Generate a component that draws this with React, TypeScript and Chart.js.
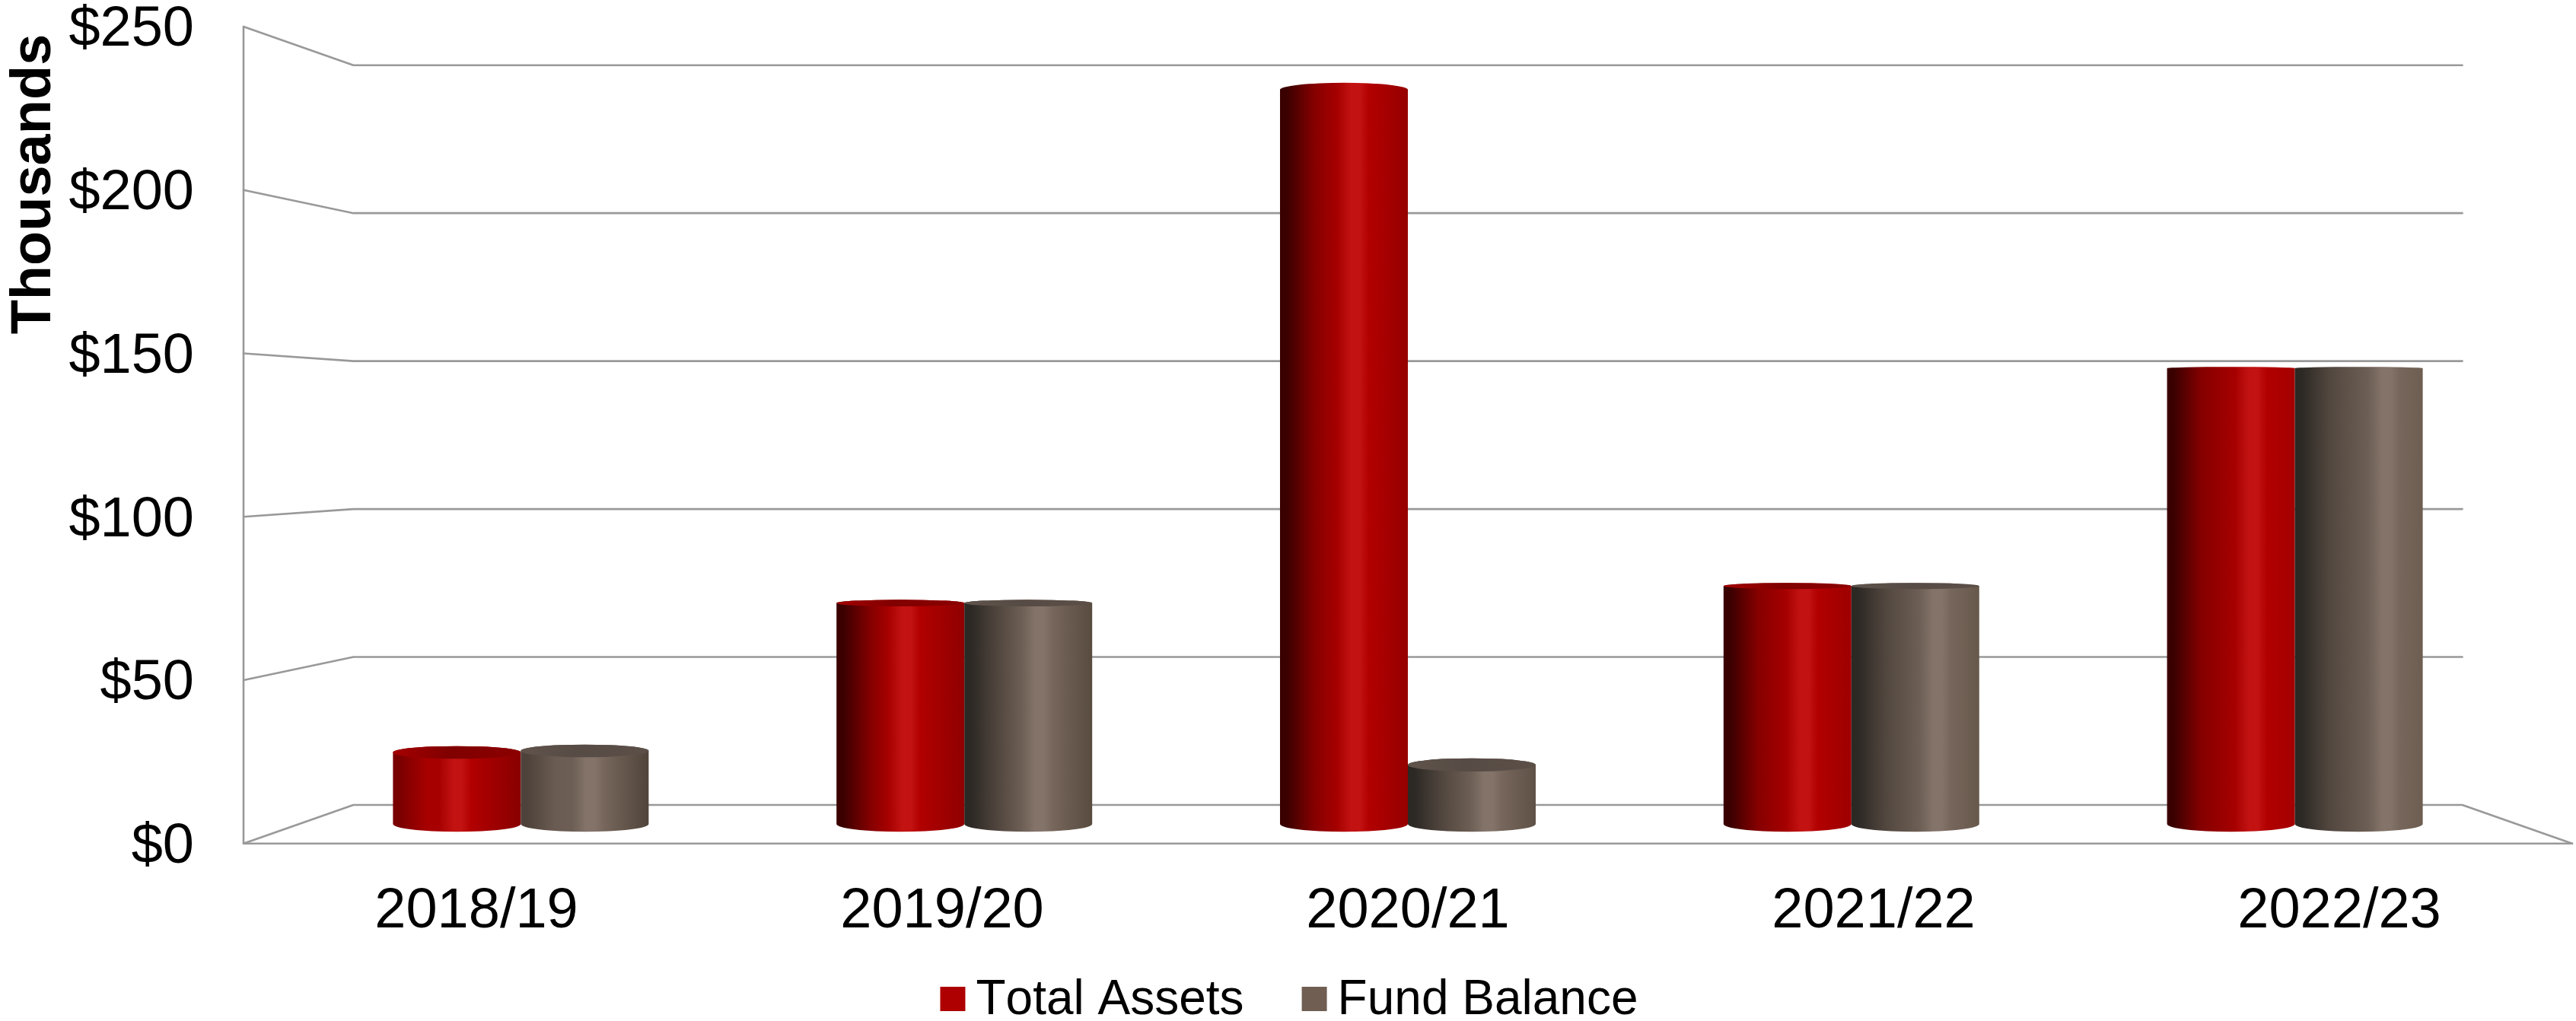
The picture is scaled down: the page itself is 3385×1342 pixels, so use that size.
import React, { useEffect, useRef } from "react";
import { Chart, BarController, BarElement, CategoryScale, LinearScale } from "chart.js";

const categories = ["2018/19", "2019/20", "2020/21", "2021/22", "2022/23"];
const totalAssets = [23, 71, 236, 76.5, 146.5];
const fundBalance = [23.5, 71, 19, 76.5, 146.5];
const seriesNames = ["Total Assets", "Fund Balance"];
const seriesColors = ["#ae0000", "#705e53"];
const axisCaption = "Thousands";
const axisMax = 250;
const axisStep = 50;

const WIDTH = 3385;
const HEIGHT = 1342;
const FONT = '"Liberation Sans", Arial, sans-serif';
const GRID_COLOR = "#999999";

// Depth of the 3D box: scale about the centre of the front plane.
const BACK_PLANE = 0.9056;
const MID_PLANE = 0.9523;
const CAP_RATIO = 0.02;

type RGB = [number, number, number];
const mix = (a: RGB, b: RGB, t: number) =>
  `rgb(${a.map((v, i) => Math.round(v + (b[i] - v) * t)).join(",")})`;

interface Shade {
  edgeLit: RGB;
  edgeDark: RGB;
  shoulderLit: RGB;
  shoulderDark: RGB;
  body: RGB;
  peak: RGB;
  falloff: RGB;
  endLow: RGB;
  endHigh: RGB;
  cap: [string, string, string];
}

const shades: Shade[] = [
  {
    edgeLit: [122, 0, 0],
    edgeDark: [58, 0, 0],
    shoulderLit: [168, 0, 0],
    shoulderDark: [134, 0, 0],
    body: [166, 0, 0],
    peak: [194, 18, 18],
    falloff: [178, 0, 0],
    endLow: [136, 0, 0],
    endHigh: [164, 0, 0],
    cap: ["#a50000", "#800000", "#8c0000"],
  },
  {
    edgeLit: [78, 66, 58],
    edgeDark: [44, 40, 36],
    shoulderLit: [106, 92, 82],
    shoulderDark: [82, 71, 63],
    body: [108, 94, 84],
    peak: [131, 115, 105],
    falloff: [118, 102, 91],
    endLow: [80, 68, 58],
    endHigh: [110, 94, 82],
    cap: ["#5f534c", "#574b45", "#5b4f48"],
  },
];

function paintCylinders(chart: any, meta: any) {
  const ctx: CanvasRenderingContext2D = chart.ctx;
  const { left, right, top, bottom } = chart.chartArea;
  const cx = (left + right) / 2;
  const cy = (top + bottom) / 2;
  const shade = shades[meta.index];
  const count = meta.data.length;

  meta.data.forEach((bar: any, i: number) => {
    const { x, y, base, width } = bar.getProps(["x", "y", "base", "width"], true);
    const midX = cx + MID_PLANE * (x - cx);
    const rx = (MID_PLANE * width) / 2;
    const topY = cy + MID_PLANE * (y - cy);
    const baseY = cy + MID_PLANE * (base - cy);
    const topRy = CAP_RATIO * Math.abs(topY - cy);
    const baseRy = CAP_RATIO * Math.abs(baseY - cy);
    const x0 = midX - rx;
    const x1 = midX + rx;
    const t = i / (count - 1);
    const early = Math.min(1, t * 4);
    const peakAt = 0.5 + 0.17 * t + (meta.index === 1 ? 0.04 : 0);

    const fill = ctx.createLinearGradient(x0, 0, x1, 0);
    const edge = mix(shade.edgeLit, shade.edgeDark, early);
    fill.addColorStop(0, edge);
    fill.addColorStop(0.05, edge);
    fill.addColorStop(0.27, mix(shade.shoulderLit, shade.shoulderDark, early));
    fill.addColorStop(peakAt - 0.14, mix(shade.body, shade.body, 0));
    fill.addColorStop(peakAt - 0.03, mix(shade.peak, shade.peak, 0));
    fill.addColorStop(peakAt + 0.04, mix(shade.peak, shade.peak, 0));
    fill.addColorStop(peakAt + 0.11, mix(shade.falloff, shade.falloff, 0));
    fill.addColorStop(1, mix(shade.endLow, shade.endHigh, t));

    ctx.save();
    ctx.beginPath();
    ctx.moveTo(x0, baseY);
    ctx.ellipse(midX, baseY, rx, baseRy, 0, Math.PI, 0, true);
    ctx.lineTo(x1, topY);
    ctx.ellipse(midX, topY, rx, topRy, 0, 0, Math.PI, true);
    ctx.closePath();
    ctx.fillStyle = fill;
    ctx.fill();

    // The end cap only shows on cylinders that stop below eye level.
    if (topY > cy) {
      const cap = ctx.createLinearGradient(x0, 0, x1, 0);
      cap.addColorStop(0, shade.cap[0]);
      cap.addColorStop(0.45, shade.cap[1]);
      cap.addColorStop(1, shade.cap[2]);
      ctx.beginPath();
      ctx.ellipse(midX, topY, rx, topRy, 0, 0, Math.PI * 2);
      ctx.fillStyle = cap;
      ctx.fill();
    }
    ctx.restore();
  });
}

// Bars drawn as lit cylinders standing halfway through the depth of the box.
// The first dataset paints every series so that later series lie on top.
class CylinderController extends BarController {
  static id = "cylinder";
  static defaults = { ...(BarController as any).defaults, dataElementType: "bar" };

  draw() {
    const chart = (this as any).chart;
    if ((this as any)._cachedMeta.index !== 0) return;
    chart.data.datasets.forEach((_: any, i: number) =>
      paintCylinders(chart, chart.getDatasetMeta(i))
    );
  }
}

// Linear axis whose labels sit a little below the tick, optically centring the digits.
class LoweredLabelScale extends LinearScale {
  static id = "loweredLabel";
  static defaults = (LinearScale as any).defaults;

  _computeLabelItems(area: any) {
    const items = (LinearScale.prototype as any)._computeLabelItems.call(this, area);
    items.forEach((item: any) => {
      item.textOffset += 5;
    });
    return items;
  }
}

// Floor and wall lines of the box, taken from the value axis.
const boxLines = {
  id: "boxLines",
  beforeDatasetsDraw(chart: any) {
    const { ctx, chartArea, scales } = chart;
    const { left, right, top, bottom } = chartArea;
    const cx = (left + right) / 2;
    const cy = (top + bottom) / 2;
    const backLeft = cx + BACK_PLANE * (left - cx);
    const backRight = cx + BACK_PLANE * (right - cx);
    ctx.save();
    ctx.strokeStyle = GRID_COLOR;
    ctx.lineWidth = 2.6;
    ctx.lineJoin = "round";
    ctx.lineCap = "round";

    ctx.beginPath();
    ctx.moveTo(left, top);
    ctx.lineTo(left, bottom);
    ctx.lineTo(right, bottom);
    ctx.stroke();

    scales.y.ticks.forEach((tick: any) => {
      const y = scales.y.getPixelForValue(tick.value);
      const backY = cy + BACK_PLANE * (y - cy);
      ctx.beginPath();
      ctx.moveTo(left, y);
      ctx.lineTo(backLeft, backY);
      ctx.lineTo(backRight, backY);
      if (tick.value === 0) ctx.lineTo(right, y);
      ctx.stroke();
    });
    ctx.restore();
  },
};

// Rotated axis caption and the legend row under the chart.
const captions = {
  id: "captions",
  afterDraw(chart: any) {
    const { ctx } = chart;
    ctx.save();
    ctx.fillStyle = "#000000";
    ctx.textAlign = "center";
    ctx.textBaseline = "alphabetic";
    ctx.font = `bold 74px ${FONT}`;
    ctx.translate(66, 242);
    ctx.rotate(-Math.PI / 2);
    ctx.fillText(axisCaption, 0, 0);
    ctx.restore();

    ctx.save();
    ctx.font = `64px ${FONT}`;
    ctx.fontKerning = "none";
    ctx.textAlign = "left";
    ctx.textBaseline = "alphabetic";
    const datasets = chart.data.datasets;
    const swatch = 33;
    const gap = 14;
    const between = 76;
    const widths = datasets.map((d: any) => ctx.measureText(d.label).width);
    const total =
      widths.reduce((a: number, b: number) => a + b + swatch + gap, 0) +
      between * (datasets.length - 1);
    let x = (chart.width - total) / 2 + 1.5;
    datasets.forEach((d: any, i: number) => {
      ctx.fillStyle = d.backgroundColor;
      ctx.fillRect(x, 1297, swatch, 32);
      ctx.fillStyle = "#000000";
      ctx.fillText(d.label, x + swatch + gap, 1333);
      x += swatch + gap + widths[i] + between;
    });
    ctx.restore();
  },
};

Chart.register(CylinderController, LoweredLabelScale, BarElement, CategoryScale, LinearScale);

export default function App() {
  const canvasRef = useRef<HTMLCanvasElement>(null);

  useEffect(() => {
    const chart = new Chart(canvasRef.current as HTMLCanvasElement, {
      type: "cylinder" as any,
      data: {
        labels: categories,
        datasets: [
          { label: seriesNames[0], data: totalAssets, backgroundColor: seriesColors[0] },
          { label: seriesNames[1], data: fundBalance, backgroundColor: seriesColors[1] },
        ],
      },
      plugins: [boxLines, captions],
      options: {
        animation: false,
        responsive: false,
        devicePixelRatio: 1,
        events: [],
        layout: { padding: { top: 35, right: 5, left: 0, bottom: 0 } },
        datasets: { cylinder: { categoryPercentage: 0.5765, barPercentage: 1, clip: false } } as any,
        plugins: { legend: { display: false }, tooltip: { enabled: false } },
        scales: {
          x: {
            type: "category",
            offset: true,
            grid: { display: false, drawTicks: false },
            border: { display: false },
            ticks: {
              color: "#000000",
              font: { family: FONT, size: 74 },
              padding: 45,
              maxRotation: 0,
              autoSkip: false,
            },
            afterFit: (s: any) => {
              s.height = 233.3;
              s.paddingLeft = 0;
              s.paddingRight = 0;
            },
          },
          y: {
            type: "loweredLabel",
            min: 0,
            max: axisMax,
            grid: { display: false, drawTicks: false },
            border: { display: false },
            ticks: {
              stepSize: axisStep,
              color: "#000000",
              font: { family: FONT, size: 74 },
              padding: 65,
              callback: (v: any) => `$${v}`,
            },
            afterFit: (s: any) => {
              s.width = 320;
              s.paddingTop = 0;
              s.paddingBottom = 0;
            },
          },
        },
      } as any,
    } as any);
    return () => chart.destroy();
  }, []);

  return (
    <div style={{ position: "absolute", left: 0, top: 0, width: WIDTH, height: HEIGHT, background: "#ffffff" }}>
      <canvas ref={canvasRef} width={WIDTH} height={HEIGHT} style={{ display: "block" }} />
    </div>
  );
}
